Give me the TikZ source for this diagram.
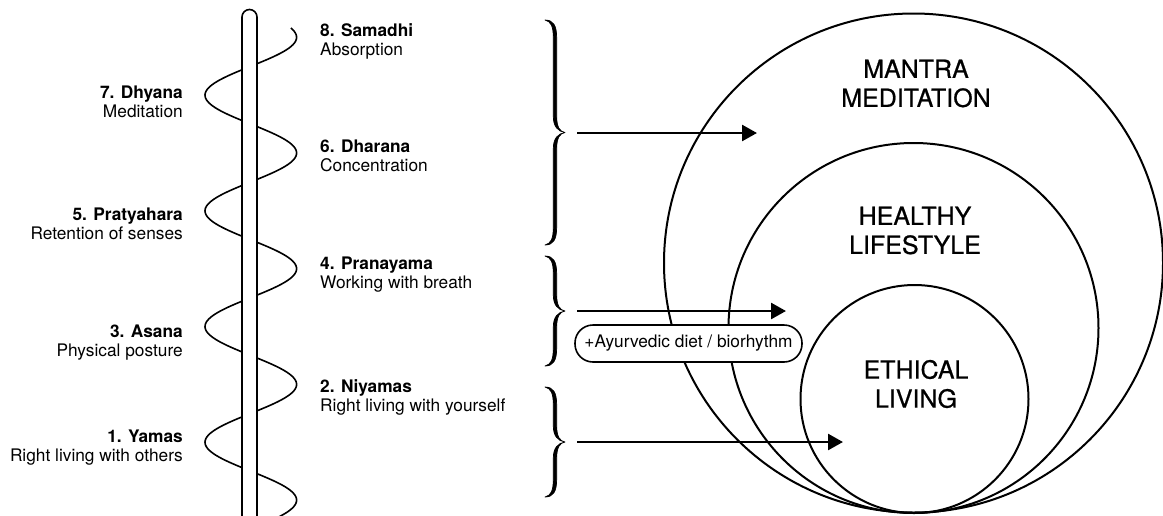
\documentclass[tikz,border=0pt]{standalone}
\usepackage{fontspec}
\setmainfont{TeX Gyre Heros}
\newfontfamily\medfont{TeX Gyre Heros}[FakeBold=0.7]
\usetikzlibrary{arrows.meta}
\newcommand\ybrace[3]{%
 \pgfmathsetmacro\ym{(#2+#3)/2}%
 \filldraw[line width=0.7pt, line join=round] (#1,#2) .. controls (#1+8,#2) and (#1+11.7,#2+5) .. (#1+11.7,#2+18)
   -- (#1+11.7,\ym-16) .. controls (#1+11.7,\ym-5) and (#1+15,\ym-0.8) .. (#1+20,\ym)
   .. controls (#1+15,\ym+0.8) and (#1+11.7,\ym+5) .. (#1+11.7,\ym+16)
   -- (#1+11.7,#3-18) .. controls (#1+11.7,#3-5) and (#1+8,#3) .. (#1,#3)
   .. controls (#1+6,#3-1.5) and (#1+8.3,#3-6) .. (#1+8.3,#3-18)
   -- (#1+8.3,\ym+16) .. controls (#1+8.3,\ym+6) and (#1+13,\ym+1) .. (#1+20,\ym)
   .. controls (#1+13,\ym-1) and (#1+8.3,\ym-6) .. (#1+8.3,\ym-16)
   -- (#1+8.3,#2+18) .. controls (#1+8.3,#2+6) and (#1+6,#2+1.5) .. (#1,#2) -- cycle;}
\begin{document}
\begin{tikzpicture}[x=1pt,y=-1pt,
  lbl/.style={inner sep=0pt, font=\fontsize{17.3}{19}\selectfont},
  lt/.style={lbl, anchor=base east},
  rt/.style={lbl, anchor=base west},
  big/.style={inner sep=0pt, align=center, font=\medfont\fontsize{25}{29}\selectfont},
  ring/.style={circle, draw, line width=2pt, inner sep=0pt},
  arr/.style={line width=2.6pt, -{Triangle[length=15pt,width=16pt]}},
  pill/.style={draw, line width=1.6pt, fill=white, rounded corners=18pt, minimum width=227pt, minimum height=37pt, inner sep=0pt, font=\fontsize{17.3}{19}\selectfont}]
\clip (0,0) rectangle (1163,515);
\fill[white] (0,0) rectangle (1163,515);
% spiral
\draw[line width=1.6pt] plot[domain=28:525, samples=300, smooth, variable=\t] ({250.8+45.8*cos(3.1115*(\t-37.3))}, \t);
% pole
\draw[line width=1.6pt, fill=white] (242,530) -- (242,17) arc[start angle=180, end angle=360, radius=7.5] -- (257,530);
% circles
\node[ring, minimum size=499pt] (outer) at (913.5,263) {};
\node[ring, minimum size=370pt] (middle) at (913.5,328) {};
\node[ring, minimum size=228pt] (inner) at (914.5,399) {};
\node[big] (mm) at (916,83.5) {MANTRA\\MEDITATION};
\node[big] (hl) at (915,230.5) {HEALTHY\\LIFESTYLE};
\node[big] (el) at (916,384) {ETHICAL\\LIVING};
% braces
\ybrace{545}{20}{245}
\ybrace{545}{256}{366}
\ybrace{545}{387}{497}
% arrows
\coordinate (a1s) at (577,133); \coordinate (a1e) at (757,133);
\coordinate (a2s) at (577,311); \coordinate (a2e) at (786,311);
\coordinate (a3s) at (577,442); \coordinate (a3e) at (843,442);
\draw[arr] (a1s) -- (a1e);
\draw[arr] (a2s) -- (a2e);
\draw[arr] (a3s) -- (a3e);
\node[pill] (ayur) at (688.5,343.5) {+Ayurvedic diet / biorhythm};
% left labels
\node[lt] (t7) at (183,98) {\textbf{7. Dhyana}};
\node[lt] (s7) at (183,117) {Meditation};
\node[lt] (t5) at (183,220) {\textbf{5. Pratyahara}};
\node[lt] (s5) at (183,239) {Retention of senses};
\node[lt] (t3) at (183,337) {\textbf{3. Asana}};
\node[lt] (s3) at (183,356) {Physical posture};
\node[lt] (t1) at (183,442) {\textbf{1. Yamas}};
\node[lt] (s1) at (183,461) {Right living with others};
% right labels
\node[rt] (t8) at (320,36) {\textbf{8. Samadhi}};
\node[rt] (s8) at (320,55) {Absorption};
\node[rt] (t6) at (320,152) {\textbf{6. Dharana}};
\node[rt] (s6) at (320,171) {Concentration};
\node[rt] (t4) at (320,269) {\textbf{4. Pranayama}};
\node[rt] (s4) at (320,288) {Working with breath};
\node[rt] (t2) at (320,392) {\textbf{2. Niyamas}};
\node[rt] (s2) at (320,411) {Right living with yourself};
\end{tikzpicture}
\end{document}
